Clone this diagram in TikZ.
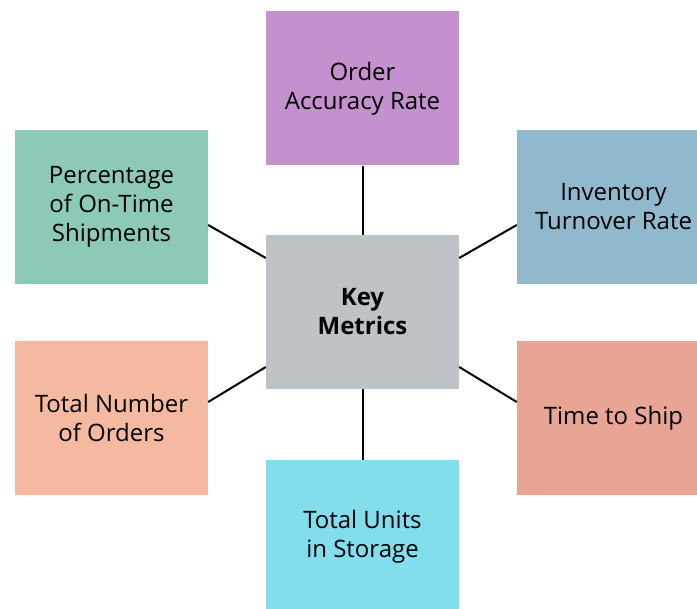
\documentclass[tikz,border=0pt]{standalone}
\usepackage{fontspec}
\setmainfont{Open Sans}
\usetikzlibrary{positioning}
\definecolor{purplebox}{HTML}{C490CE}
\definecolor{graybox}{HTML}{BEC3C7}
\definecolor{tealbox}{HTML}{8DC9B8}
\definecolor{bluebox}{HTML}{90B9CE}
\definecolor{salmonbox}{HTML}{F5B9A0}
\definecolor{rosebox}{HTML}{E8A595}
\definecolor{cyanbox}{HTML}{82DDEC}
\tikzset{
  metric/.style={rectangle,minimum width=193pt,minimum height=154pt,inner sep=0pt,
    align=center,font=\fontsize{24}{29}\selectfont},
  link/.style={line width=2pt,black}
}
\begin{document}
\begin{tikzpicture}[x=1pt,y=-1pt]
\useasboundingbox (0,0) rectangle (697,609);
\clip (0,0) rectangle (697,609);
% Metrics around the center
\node[metric,fill=graybox,font=\fontsize{24}{29}\selectfont\bfseries] (key) at (362.5,312) {Key\\Metrics};
\node[metric,fill=purplebox] (accuracy) at (362.5,88.5) {Order\\Accuracy Rate};
\node[metric,fill=tealbox] (ontime) at (111.5,207) {Percentage\\of On-Time\\Shipments};
\node[metric,fill=bluebox] (inventory) at (613.5,207) {Inventory\\Turnover Rate};
\node[metric,fill=salmonbox] (orders) at (111.5,418.5) {Total Number\\of Orders};
\node[metric,fill=rosebox] (ship) at (613.5,418.5) {Time to Ship};
\node[metric,fill=cyanbox] (storage) at (362.5,537) {Total Units\\in Storage};
\draw[link] (accuracy.south) -- (key.north);
\draw[link] (key.south) -- (storage.north);
\draw[link] ([yshift=-18pt]ontime.east) -- ([yshift=54pt]key.west);
\draw[link] ([yshift=-18pt]inventory.west) -- ([yshift=54pt]key.east);
\draw[link] ([yshift=16.5pt]orders.east) -- ([yshift=-55pt]key.west);
\draw[link] ([yshift=16.5pt]ship.west) -- ([yshift=-55pt]key.east);
\end{tikzpicture}
\end{document}
